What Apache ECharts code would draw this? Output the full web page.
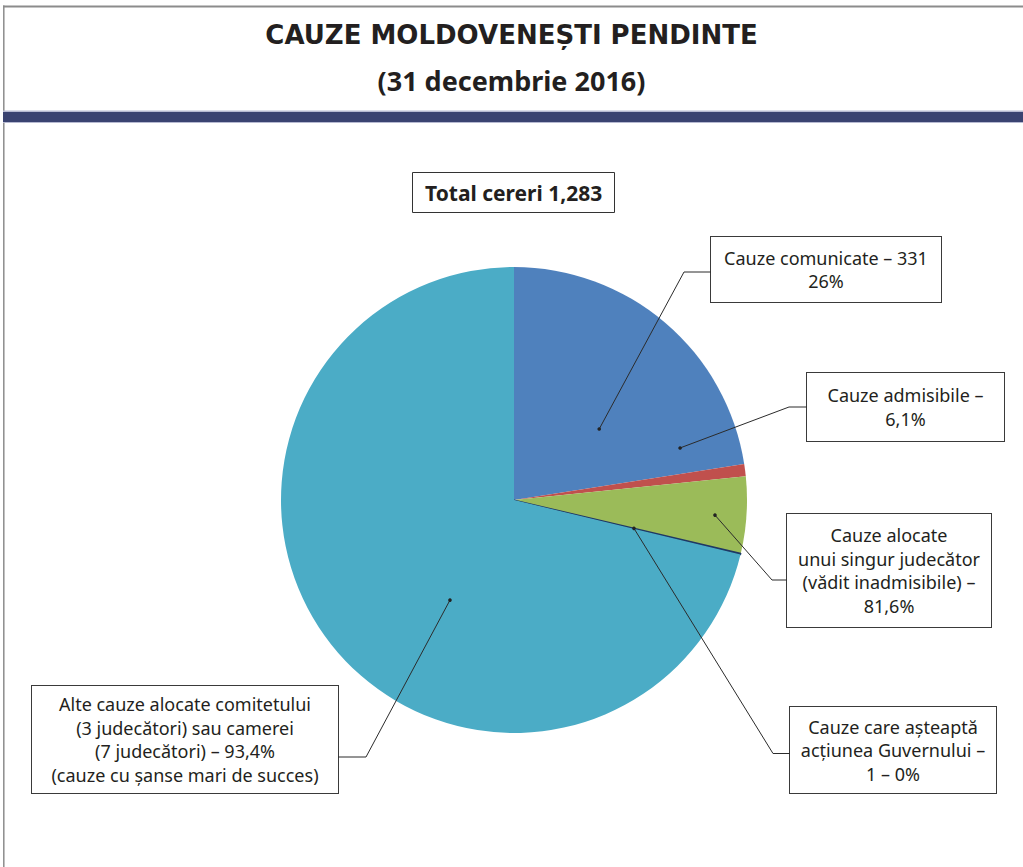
<!DOCTYPE html>
<html>
<head>
<meta charset="utf-8">
<script src="https://cdn.jsdelivr.net/npm/echarts@6/dist/echarts.min.js"></script>
<style>
html,body{margin:0;padding:0;background:#ffffff;}
#chart{width:1023px;height:867px;}
</style>
</head>
<body>
<div id="chart"></div>
<script>
// ---------- data ----------
const titleLine1 = 'CAUZE MOLDOVENEȘTI PENDINTE';
const titleLine2 = '(31 decembrie 2016)';
const totalLabel = 'Total cereri 1,283';
const categories = [
  'Cauze comunicate',
  'Cauze admisibile',
  'Cauze alocate unui singur judecător',
  'Cauze care așteaptă acțiunea Guvernului',
  'Alte cauze alocate comitetului sau camerei'
];
const values = [289, 11, 68, 1, 914];
const calloutTexts = [
  'Cauze comunicate – 331\n26%',
  'Cauze admisibile –\n6,1%',
  'Cauze alocate\nunui singur judecător\n(vădit inadmisibile) –\n81,6%',
  'Cauze care așteaptă\nacțiunea Guvernului –\n1 – 0%',
  'Alte cauze alocate comitetului\n(3 judecători) sau camerei\n(7 judecători) – 93,4%\n(cauze cu șanse mari de succes)'
];

// ---------- styling / layout ----------
const sliceColors = ['#4F81BD', '#C0504D', '#9BBB59', '#1F3864', '#4BACC6'];
const PIE_CENTER = [514, 500];
const PIE_RADIUS = 233;
const LINE_H = 23.5;
const FONT = '"Noto Sans", "Open Sans", sans-serif';
// box: [left, top, width, height]; anchor: [angle deg clockwise from 12 o'clock, fraction of radius]
const callouts = [
  { box: [711, 237, 230, 65],  anchor: [50.2, 0.476],  bend: [684, 272],   side: 'left'  },
  { box: [807, 373, 197, 68],  anchor: [72.6, 0.747],  bend: [789, 407],   side: 'left'  },
  { box: [787, 514, 204, 113], anchor: [94.3, 0.865],  bend: [772, 580],   side: 'left'  },
  { box: [790, 707, 206, 86],  anchor: [103.3, 0.529], bend: [773, 753.5], side: 'left'  },
  { box: [32, 686, 306, 107],  anchor: [212.6, 0.51],  bend: [366, 757],   side: 'right' }
];

function anchorPoint(a) {
  const rad = a[0] * Math.PI / 180;
  const r = PIE_RADIUS * a[1];
  return [PIE_CENTER[0] + r * Math.sin(rad), PIE_CENTER[1] - r * Math.cos(rad)];
}

const chart = echarts.init(document.getElementById('chart'), null, { renderer: 'svg' });

const pieData = categories.map(function (name, i) {
  const c = callouts[i];
  const nLines = calloutTexts[i].split('\n').length;
  const padV = (c.box[3] - nLines * LINE_H) / 2;
  const padH = 8;
  const item = {
    name: name,
    value: values[i],
    itemStyle: { color: sliceColors[i] },
    label: {
      formatter: calloutTexts[i],
      width: c.box[2] - 2 * padH,
      padding: [padV, padH, padV, padH]
    }
  };
  if (i === 3) {
    item.itemStyle.borderColor = '#1F3864';
    item.itemStyle.borderWidth = 1.2;
  }
  return item;
});

const leaders = [];
callouts.forEach(function (c) {
  const p = anchorPoint(c.anchor);
  const endX = c.side === 'left' ? c.box[0] : c.box[0] + c.box[2];
  leaders.push({
    type: 'polyline',
    shape: { points: [p, c.bend, [endX, c.bend[1]]] },
    style: { stroke: '#2B2B2B', lineWidth: 1, fill: null },
    z: 100
  });
  leaders.push({
    type: 'circle',
    shape: { cx: p[0], cy: p[1], r: 1.8 },
    style: { fill: '#222' },
    z: 101
  });
});

const option = {
  backgroundColor: '#ffffff',
  animation: false,
  title: [
    {
      text: titleLine1,
      left: 'center',
      top: 22,
      padding: 0,
      textStyle: { fontFamily: '"DejaVu Sans", sans-serif', fontWeight: 'bold', fontSize: 26, color: '#231F20' }
    },
    {
      text: titleLine2,
      left: 'center',
      top: 67,
      padding: 0,
      textStyle: { fontFamily: FONT, fontWeight: 'bold', fontSize: 27, color: '#231F20' }
    },
    {
      text: totalLabel,
      left: 412,
      top: 172,
      padding: [10, 13],
      borderColor: '#333333',
      borderWidth: 1,
      backgroundColor: '#ffffff',
      textStyle: { fontFamily: FONT, fontWeight: 'bold', fontSize: 21, color: '#231F20' }
    }
  ],
  graphic: [
    { type: 'line', shape: { x1: 3, y1: 6.5, x2: 1023, y2: 6.5 }, style: { stroke: '#8C8C8C', lineWidth: 2 } },
    { type: 'line', shape: { x1: 3.8, y1: 5.5, x2: 3.8, y2: 867 }, style: { stroke: '#8C8C8C', lineWidth: 1.5 } },
    { type: 'rect', shape: { x: 3, y: 110.5, width: 1020, height: 12.5 }, style: { fill: '#B6B9D1' } },
    { type: 'rect', shape: { x: 3, y: 112, width: 1020, height: 10 }, style: { fill: '#3A4371' } }
  ].concat(leaders),
  series: [{
    type: 'pie',
    center: PIE_CENTER,
    radius: PIE_RADIUS,
    startAngle: 90,
    clockwise: true,
    avoidLabelOverlap: false,
    minShowLabelAngle: 0,
    silent: true,
    itemStyle: { borderWidth: 0 },
    emphasis: { disabled: true },
    label: {
      show: true,
      position: 'outside',
      fontFamily: FONT,
      fontSize: 18,
      lineHeight: LINE_H,
      color: '#231F20',
      backgroundColor: '#ffffff',
      borderColor: '#3A3A3A',
      borderWidth: 1,
      overflow: 'none'
    },
    labelLine: { show: false },
    labelLayout: function (params) {
      const c = callouts[params.dataIndex];
      if (!c) { return {}; }
      return {
        x: c.box[0] + c.box[2] / 2,
        y: c.box[1],
        align: 'center',
        verticalAlign: 'top'
      };
    },
    data: pieData
  }]
};

chart.setOption(option);
</script>
</body>
</html>
